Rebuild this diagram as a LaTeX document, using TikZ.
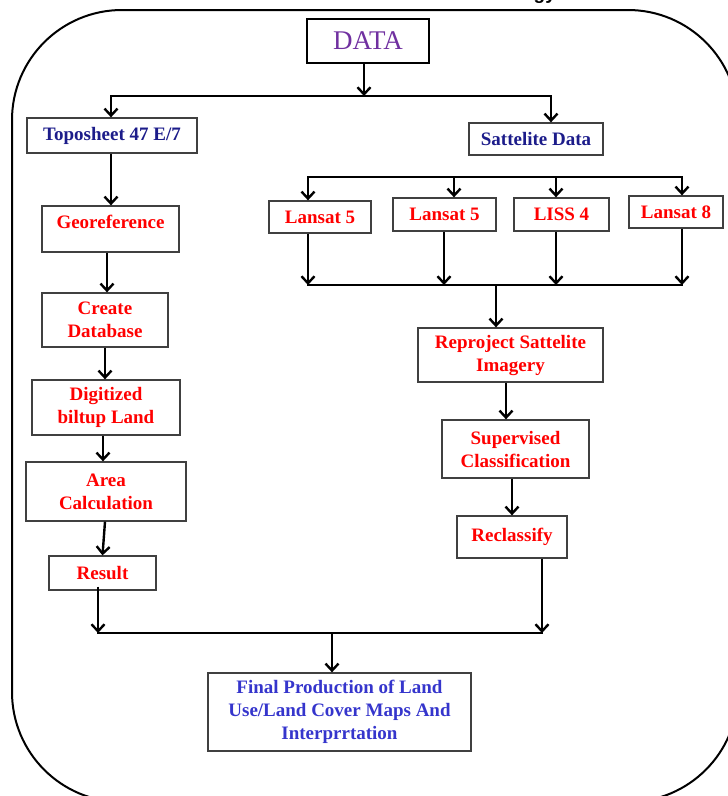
\documentclass[tikz,border=0pt]{standalone}
\usepackage{fontspec}
\setmainfont{Liberation Serif}
\newfontfamily\titlefont{Liberation Sans}
\usetikzlibrary{arrows.meta}
\definecolor{redtxt}{HTML}{FF0000}
\definecolor{navytxt}{HTML}{1C1C8A}
\definecolor{bluetxt}{HTML}{3535CC}
\definecolor{purptxt}{HTML}{7030A0}
\definecolor{boxline}{HTML}{404040}
\begin{document}
\begin{tikzpicture}[x=1pt,y=-1pt,
  box/.style={draw=boxline, line width=1.3pt, rectangle, inner sep=0pt, align=center,
    font=\fontsize{19}{23}\selectfont\bfseries, text=redtxt},
  conn/.style={line width=2.4pt, draw=black, line cap=rect},
  arr/.style={line width=2.4pt, draw=black, -{Straight Barb[length=7pt,width=13pt]}},
]
\useasboundingbox (0,0) rectangle (728,796);
\clip (0,0) rectangle (728,796);
\draw[line width=2pt, rounded corners=110pt] (12,10) rectangle (738,802);
\node[anchor=base east, inner sep=0pt, font=\titlefont\bfseries\fontsize{19}{23}\selectfont] (title) at (556,-1) {Methodology};

% boxes
\node[box, draw=black, line width=2.5pt, minimum width=122pt, minimum height=44pt, text=purptxt,
  font=\fontsize{27}{30}\selectfont] (data) at (368,41) {DATA};
\node[box, minimum width=170pt, minimum height=35pt, text=navytxt] (topo) at (112,135.5) {Toposheet 47 E/7};
\node[box, minimum width=134pt, minimum height=32pt, text=navytxt] (sat) at (536,139) {Sattelite Data};
\node[box, minimum width=137pt, minimum height=46pt, text depth=14pt] (geo) at (110.5,229) {Georeference};
\node[box, minimum width=126pt, minimum height=54pt] (cdb) at (105,320) {Create\\Database};
\node[box, minimum width=148pt, minimum height=55pt] (dig) at (106,407.5) {Digitized\\biltup Land};
\node[box, minimum width=160pt, minimum height=59pt] (area) at (106,491.5) {Area\\Calculation};
\node[box, minimum width=107pt, minimum height=34pt] (res) at (102.5,573) {Result};
\node[box, minimum width=102pt, minimum height=32pt] (l5a) at (320,217) {Lansat 5};
\node[box, minimum width=103pt, minimum height=33pt] (l5b) at (444.5,214.5) {Lansat 5};
\node[box, minimum width=95pt, minimum height=33pt] (liss) at (561.5,214.5) {LISS 4};
\node[box, minimum width=94pt, minimum height=32pt] (l8) at (676,212) {Lansat 8};
\node[box, minimum width=185pt, minimum height=54pt] (rep) at (510.5,355) {Reproject Sattelite\\Imagery};
\node[box, minimum width=147pt, minimum height=58pt] (sup) at (515.5,449) {Supervised\\Classification};
\node[box, minimum width=110pt, minimum height=42pt] (rec) at (512,537) {Reclassify};
\node[box, minimum width=263pt, minimum height=78pt, text=bluetxt] (fin) at (339.5,712)
  {Final Production of Land\\Use/Land Cover Maps And\\Interprrtation};

% junction coordinates
\coordinate (busA) at (364,96);
\coordinate (busAL) at (111,96);
\coordinate (busAR) at (551,96);
\coordinate (busCL) at (308,177);
\coordinate (busC2) at (454,177);
\coordinate (busC3) at (556,177);
\coordinate (busCR) at (682,177);
\coordinate (busDL) at (308,285);
\coordinate (busD2) at (444,285);
\coordinate (busD3) at (556,285);
\coordinate (busDR) at (682,285);
\coordinate (busDM) at (496,285);
\coordinate (busBL) at (98,633);
\coordinate (busBR) at (542,633);
\coordinate (busBM) at (332,633);

% top split
\draw[arr] (data.south -| busA) -- (busA);
\draw[conn] (busAL) -- (busAR);
\draw[arr] (busAL) -- (busAL |- topo.north);
\draw[arr] (busAR) -- (busAR |- sat.north);

% left chain
\draw[arr] (topo.south -| busAL) -- (geo.north -| busAL);
\draw[arr] ([xshift=-3.5pt]geo.south) -- ([xshift=-3.5pt]geo.south |- cdb.north);
\draw[arr] (cdb.south) -- (cdb.south |- dig.north);
\draw[arr] ([xshift=-3pt]dig.south) -- ([xshift=-3pt]dig.south |- area.north);
\draw[arr] ([xshift=-1pt]area.south) -- (res.north);
\draw[arr] ([yshift=4pt]res.south -| busBL) -- (busBL);

% satellite branches
\draw[conn] (busCL) -- (busCR);
\draw[arr] (busCL) -- (busCL |- l5a.north);
\draw[arr] (busC2) -- (busC2 |- l5b.north);
\draw[arr] (busC3) -- (busC3 |- liss.north);
\draw[arr] (busCR) -- (busCR |- l8.north);
\draw[arr] (l5a.south -| busDL) -- (busDL);
\draw[arr] (l5b.south -| busD2) -- (busD2);
\draw[arr] (liss.south -| busD3) -- (busD3);
\draw[arr] (l8.south -| busDR) -- (busDR);
\draw[conn] (busDL) -- (busDR);
\draw[arr] (busDM) -- (busDM |- rep.north);

% right chain
\draw[arr] ([xshift=-4.5pt]rep.south) -- ([xshift=-4.5pt]rep.south |- sup.north);
\draw[arr] ([xshift=-3.5pt]sup.south) -- ([xshift=-3.5pt]sup.south |- rec.north);
\draw[arr] (rec.south -| busBR) -- (busBR);

% bottom merge
\draw[conn] (busBL) -- (busBR);
\draw[arr] (busBM) -- (busBM |- fin.north);
\end{tikzpicture}
\end{document}
